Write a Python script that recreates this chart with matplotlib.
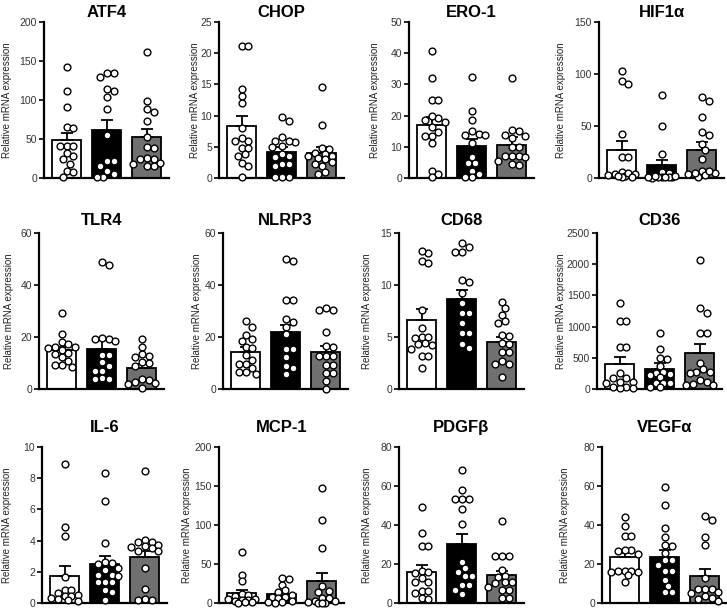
import numpy as np
import matplotlib.pyplot as plt

plt.rcParams['font.family'] = ['Liberation Sans Narrow', 'Liberation Sans', 'DejaVu Sans']

titles = ['ATF4', 'CHOP', 'ERO-1', 'HIF1α', 'TLR4', 'NLRP3', 'CD68', 'CD36',
          'IL-6', 'MCP-1', 'PDGFβ', 'VEGFα']
y_max = [200, 25, 50, 150, 60, 60, 15, 2500, 10, 200, 80, 80]
y_step = [50, 5, 10, 50, 20, 20, 5, 500, 2, 50, 20, 20]

# bar heights (means) and SEM for the three groups of each gene
means = [[49, 62, 53], [8.35, 4.15, 4.05], [17, 10.4, 10.7], [26.5, 12.4, 27.4],
         [15, 15.4, 8.1], [14.4, 21.9, 14.4], [6.65, 8.64, 4.56], [401, 316, 573],
         [1.71, 2.53, 2.93], [12.8, 12, 27.8], [15.9, 30.5, 14.6], [23.6, 23.6, 13.7]]
sems = [[9, 13, 10], [1.65, 0.75, 0.9], [2.7, 2.1, 2.4], [9.5, 5.1, 7.1],
        [1.3, 3.8, 1.4], [1.9, 2.8, 2.3], [1.03, 0.9, 0.48], [118, 96, 144],
        [0.65, 0.51, 0.43], [4.2, 3, 10.7], [3.4, 5.1, 2.0], [2.1, 3.8, 3.9]]

# individual values
atf4 = [[142, 111, 91, 66, 64, 41, 41, 41, 32, 28, 24, 18, 9, 8, 1],
        [134, 130, 134, 112, 114, 104, 88, 55, 22, 22, 15, 5, 1, 1, 9],
        [162, 99, 88, 84, 73, 52, 40, 39, 25, 26, 25, 18, 15, 19, 15]]
chop = [[21.1, 21.1, 14.3, 13.1, 12, 8, 5.9, 5.9, 6.4, 4.8, 4.8, 3.9, 3.5, 2.4, 2, 0.2],
        [9.2, 9.7, 6.5, 5.7, 5.9, 5.9, 4.9, 5.1, 3.8, 3.5, 3.4, 2.3, 2, 2.2, 0.2, 0.2, 0.2],
        [14.6, 8.5, 4.8, 4.7, 4, 3.8, 3.6, 3.2, 3, 3.6, 2.5, 2.3, 1.9, 1, 0.7]]
ero1 = [[40.7, 32.2, 25, 25, 19.1, 18.7, 19.8, 18.1, 13.6, 14.9, 13.6, 16.3, 11.3, 2.4, 1.2, 0.3],
        [32.4, 21.6, 18.6, 15.2, 14.1, 13.8, 13.8, 11.2, 6.7, 4.8, 4.8, 2.4, 1.4, 0.3, 0.3],
        [32, 15.4, 15.2, 13.6, 13.8, 12.9, 9.9, 9.9, 7.2, 7.2, 7.2, 6.7, 5.6, 4.4, 4.3]]
hif1a = [[103, 93.5, 90, 42.5, 20, 20, 5.7, 4.1, 1.9, 3.5, 4.8, 1, 2.5, 1, 1.5],
         [80, 50.4, 22.7, 5.7, 5.1, 1, 1, 0.5, 0.8, 1.2, 1.5, 0.3, 2, 1.4],
         [77.6, 74.4, 58.4, 44, 41.5, 32.9, 27.4, 18.5, 6.7, 4.8, 2.6, 1, 4.8, 6.7, 3.5]]
tlr4 = [[29.2, 21.1, 17.9, 17.2, 16.3, 16.3, 15.7, 15, 13.8, 13.5, 12.5, 10.8, 9.3, 9.3, 8.6],
        [47.6, 48.8, 19.2, 19.2, 19.5, 18.3, 12.9, 9, 6.9, 6.9, 10.5, 13.1, 4.1, 3.9, 3.9],
        [19.2, 16.1, 13.5, 12.7, 12.5, 10.5, 9.9, 8.9, 3.9, 3.5, 2.4, 1.9, 0.3, 2.8]]
nlrp3 = [[26, 24, 20.8, 19.2, 18.6, 16.3, 15.7, 13.1, 9.5, 9.5, 11.2, 8, 6.4, 5.8, 6.7],
         [49.4, 50, 34.3, 34.3, 25.6, 27, 24, 21, 15.3, 15.3, 12.5, 9, 8, 5.8],
         [31.1, 30.5, 30.2, 22.1, 16.6, 16.3, 12.7, 12.7, 12.7, 9.3, 9.3, 6, 6, 3.1, 0]]
cd68 = [[13.1, 13.3, 12.3, 12.1, 7.6, 5.9, 5.0, 4.9, 5.0, 4.4, 4.2, 4.3, 3.2, 3.8, 2.0, 3.2],
        [13.7, 13.2, 13.2, 14, 10.5, 10.3, 9.2, 7.3, 8.3, 7.3, 6.3, 5.4, 5.4, 3.9, 4.3],
        [8.35, 7.77, 7.1, 6.3, 6.5, 5.2, 5.05, 4.4, 4.3, 3.6, 2.7, 2.4, 2.4, 3.6, 1.2]]
cd36 = [[1386, 1097, 1097, 680, 680, 251, 91, 118, 37, 11, 11, 171, 118, 171, 37],
        [904, 637, 476, 492, 375, 241, 252, 278, 225, 102, 102, 102, 198, 37, 37],
        [2071, 1215, 1295, 894, 894, 412, 278, 321, 144, 80, 268, 118, 64, 64, 251]]
il6 = [[8.93, 4.88, 4.28, 1.65, 0.86, 0.54, 0.64, 0.86, 0.43, 0.26, 0.43, 0.32, 0.21, 0.1],
       [8.35, 6.53, 3.85, 2.63, 2.5, 2.57, 2.1, 2.25, 1.82, 1.76, 1.82, 1.33, 1.33, 1.33, 0.86, 0.69, 0.21],
       [8.46, 4.07, 3.9, 3.9, 3.75, 3.64, 3.58, 3.32, 3.32, 3.5, 2.25, 0.9, 0.26, 0.17, 0.17]]
mcp1 = [[65.5, 36.4, 27.8, 12, 9.4, 10.7, 5.1, 2.1, 5.1, 4.3, 4.3, 1, 0.5, 1.5],
        [30.8, 32, 23.6, 16.3, 13.7, 10.7, 7.7, 7.7, 6.4, 2.1, 0.9, 0.5, 1],
        [148, 106, 70, 15, 13.7, 21.4, 6.4, 2.1, 2.1, 6.4, 0.5, 0.3, 0.8, 0.4]]
pdgfb = [[49.3, 36, 29.1, 29.1, 16.3, 15.4, 15.9, 12.8, 10.6, 10.6, 6, 6, 5.1, 2.6, 2.2],
         [68.2, 57.9, 53.1, 53.1, 53.1, 48.3, 40.6, 20.9, 18, 15.9, 13.7, 13.7, 9.4, 9.4, 4.6, 6.8],
         [42.3, 24, 24, 24, 17.1, 14, 13.2, 10.3, 10.6, 10.6, 8, 6.5, 6.8, 2.6, 2.6]]
vegfa = [[44.2, 39.4, 34.2, 34.2, 27.1, 25.3, 26.5, 27.4, 16.3, 15.8, 16.3, 16.3, 10.6, 14.6, 16],
         [59.6, 50.5, 38.5, 33.9, 30, 29.1, 25.7, 22.3, 22.3, 19.7, 16.3, 16.3, 12, 8.9, 5.5, 5.5],
         [42.5, 44.5, 33.7, 30, 12.8, 7.2, 7.2, 7.2, 5.1, 5.5, 2.2, 0.9, 2.6, 3.4]]
points = [atf4, chop, ero1, hif1a, tlr4, nlrp3, cd68, cd36, il6, mcp1, pdgfb, vegfa]

bar_colors = ['white', 'black', '#707070']

# layout in pixels (figure is 727 x 608)
W, H = 727, 608
ax_w, ax_h = 125, 156
lefts = [44, 219, 409, 599, 39, 223, 399, 597, 42, 219, 399, 602]
bottoms = [430, 219, 5]
title_pads = [3.5, 6, 11]
label_off = [36, 24, 34, 37, 29, 26, 32, 35, 34, 32, 31, 37]
xlim = (-0.56, 2.55)
px_per_x = ax_w / (xlim[1] - xlim[0])


def swarm_x(vals, px_per_y, d=6.8, max_off=14):
    # beeswarm kept inside the bar: overlap allowed when there is no room
    vals = np.asarray(vals, float)
    order = np.argsort(-vals)
    placed = []
    xs = np.zeros(len(vals))
    steps = [0.0]
    k = 1
    while k * d / 2 <= max_off:
        steps += [k * d / 2, -k * d / 2]
        k += 1
    for i in order:
        y = vals[i] * px_per_y
        best, best_gap = 0.0, -1
        for s in steps:
            gap = min([np.hypot(s - px, y - py) for px, py in placed] + [99])
            if gap >= d * 0.95:
                best = s
                break
            if gap > best_gap + 0.5:
                best, best_gap = s, gap
        placed.append((best, y))
        xs[i] = best / px_per_x
    return xs


fig = plt.figure(figsize=(W / 100, H / 100), dpi=100)

for i, name in enumerate(titles):
    row = i // 4
    ax = fig.add_axes([lefts[i] / W, bottoms[row] / H, ax_w / W, ax_h / H])
    x = np.arange(3)
    ax.bar(x, means[i], width=0.72, color=bar_colors, edgecolor='black',
           linewidth=1.3, zorder=1)
    ax.errorbar(x, means[i], yerr=[[0, 0, 0], sems[i]], fmt='none', ecolor='black',
                elinewidth=1.3, capsize=4.5, capthick=1.3, zorder=2)
    px_per_y = ax_h / y_max[i]
    for g in range(3):
        vals = points[i][g]
        xs = g + swarm_x(vals, px_per_y)
        ax.scatter(xs, vals, s=24, facecolor='white', edgecolor='black',
                   linewidth=1.0, zorder=3, clip_on=False)

    ax.set_xlim(*xlim)
    ax.set_ylim(0, y_max[i])
    ax.set_yticks(np.arange(0, y_max[i] + y_step[i] / 2, y_step[i]))
    ax.set_xticks([])
    for side in ['top', 'right']:
        ax.spines[side].set_visible(False)
    for side in ['left', 'bottom']:
        ax.spines[side].set_linewidth(1.6)
    ax.tick_params(axis='y', length=3.5, width=1.2, labelsize=7.5,
                   labelcolor='#333333', pad=1.5)
    ax.set_title(name, fontsize=12, fontweight='bold', family=['Liberation Sans', 'DejaVu Sans'],
                 pad=title_pads[row])
    ax.set_ylabel('Relative mRNA expression', fontsize=7, color='#222222')
    ax.yaxis.set_label_coords(-(label_off[i] - 4.5) / ax_w, 0.5)

fig.savefig('out.png', dpi=100)
